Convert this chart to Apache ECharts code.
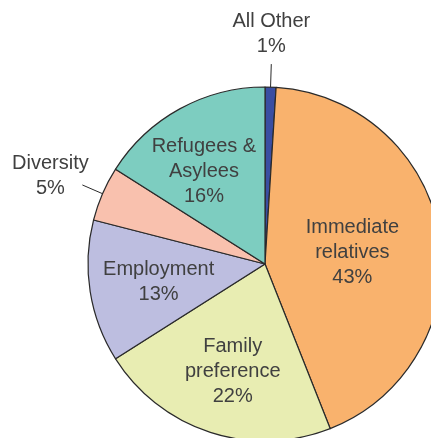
<!DOCTYPE html>
<html>
<head>
<meta charset="utf-8">
<script src="https://cdn.jsdelivr.net/npm/echarts@6/dist/echarts.min.js"></script>
<style>
  html, body { margin: 0; padding: 0; background: #fff; }
  #chart { width: 431px; height: 438px; }
</style>
</head>
<body>
<div id="chart"></div>
<script>
// Immigrant admissions by category, share of total (%)
const categories = ['All Other', 'Immediate\nrelatives', 'Family\npreference', 'Employment', 'Diversity', 'Refugees &\nAsylees'];
const shares = [1, 43, 22, 13, 5, 16];
const sliceColors = ['#3a4ea2', '#f9b26d', '#e8edb2', '#bdbee0', '#f9c1ae', '#7dcdc0'];
// slices whose label sits outside the pie with a leader line
const outsideLabels = ['All Other', 'Diversity'];

const chart = echarts.init(document.getElementById('chart'), null, { renderer: 'canvas' });

const textColor = '#404040';
const fontFamily = '"Liberation Sans", Arial, sans-serif';

// nudges for the labels drawn inside the slices
const insideNudge = {
  'Immediate\nrelatives': [-3, 3],
  'Family\npreference': [-4, 20],
  'Employment': [-16, 4],
  'Refugees &\nAsylees': [-17, -12]
};

const data = categories.map((name, i) => {
  const outside = outsideLabels.indexOf(name) >= 0;
  return {
    name: name,
    value: shares[i],
    itemStyle: { color: sliceColors[i] },
    label: { position: outside ? 'outside' : 'inside' },
    labelLine: {
      show: outside,
      length: name === 'All Other' ? 23 : 22,
      length2: 0,
      lineStyle: { color: '#2a2a2a', width: 1 }
    }
  };
});

chart.setOption({
  animation: false,
  backgroundColor: '#ffffff',
  series: [{
    type: 'pie',
    center: [265, 264],
    radius: [0, 177],
    startAngle: 90,
    clockwise: true,
    avoidLabelOverlap: false,
    itemStyle: { borderColor: '#2a2a2a', borderWidth: 1.2 },
    emphasis: { disabled: true },
    label: {
      show: true,
      formatter: '{b}\n{c}%',
      color: textColor,
      fontFamily: fontFamily,
      fontSize: 20,
      lineHeight: 25,
      align: 'center'
    },
    labelLayout: function (params) {
      const name = categories[params.dataIndex];
      if (name === 'All Other') {
        const end = params.labelLinePoints[1];
        return {
          x: end[0], y: end[1] - 5,
          align: 'center', verticalAlign: 'bottom',
          labelLinePoints: params.labelLinePoints
        };
      }
      if (name === 'Diversity') {
        const end = params.labelLinePoints[1];
        return {
          x: end[0] - 32, y: end[1] - 9,
          align: 'center', verticalAlign: 'middle',
          labelLinePoints: params.labelLinePoints
        };
      }
      const n = insideNudge[name] || [0, 0];
      return { dx: n[0], dy: n[1], align: 'center' };
    },
    data: data
  }]
});
</script>
</body>
</html>
